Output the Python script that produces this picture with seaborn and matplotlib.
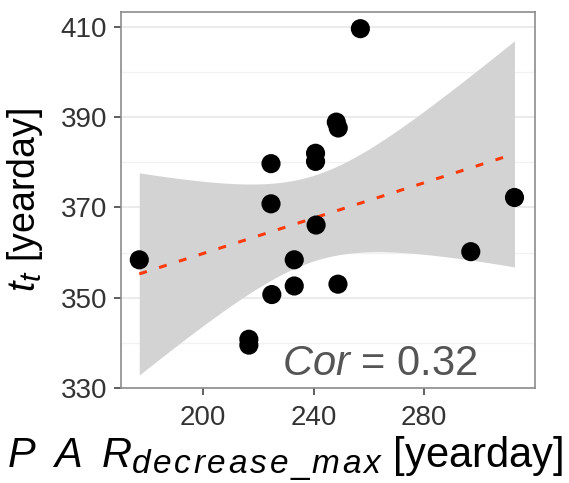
import numpy as np
import pandas as pd
import matplotlib
matplotlib.use("Agg")
import matplotlib.pyplot as plt
from matplotlib.ticker import MultipleLocator
import matplotlib._mathtext as mathtext_mod
import seaborn as sns

# values
par_decrease_max = [177.0, 216.6, 216.6, 224.6, 224.6, 224.9, 233.0, 233.0,
                    240.7, 240.7, 240.9, 248.2, 248.9, 248.8, 256.9, 296.8, 312.6]
t_t = [358.4, 340.8, 339.5, 379.7, 370.8, 350.7, 358.4, 352.6,
       382.0, 380.2, 366.1, 388.9, 387.6, 353.0, 409.6, 360.2, 372.2]
cor_label = "0.32"
x_ticks = [200, 240, 280]
y_ticks = [330, 350, 370, 390, 410]

df = pd.DataFrame({"par": par_decrease_max, "tt": t_t})

# linear fit with 95% confidence band (like geom_smooth(method = "lm"))
x = df["par"].to_numpy()
y = df["tt"].to_numpy()
n = len(x)
slope, intercept = np.polyfit(x, y, 1)
resid = y - (slope * x + intercept)
s_err = np.sqrt(np.sum(resid ** 2) / (n - 2))
sxx = np.sum((x - x.mean()) ** 2)
t_crit = 2.131  # t(0.975, df = 15)
fit = pd.DataFrame({"par": np.linspace(x.min(), x.max(), 80)})
fit["tt"] = slope * fit["par"] + intercept
half = t_crit * s_err * np.sqrt(1 / n + (fit["par"] - x.mean()) ** 2 / sxx)
fit["lo"] = fit["tt"] - half
fit["hi"] = fit["tt"] + half

sns.set_style("white")
plt.rcParams["font.family"] = ["Liberation Sans", "DejaVu Sans"]
plt.rcParams["mathtext.fontset"] = "custom"
plt.rcParams["mathtext.rm"] = "Liberation Sans"
plt.rcParams["mathtext.it"] = "Liberation Sans:italic"
mathtext_mod.SHRINK_FACTOR = 0.8  # R-style bigger subscripts

fig = plt.figure(figsize=(5.69, 4.83), dpi=100)
ax = fig.add_axes([0.2127, 0.1967, 0.7275, 0.7785])

ax.fill_between(fit["par"], fit["lo"], fit["hi"], color="#d3d3d3", lw=0, zorder=2)
sns.lineplot(data=fit, x="par", y="tt", ax=ax, color="#ff3a0a", lw=2.2,
             linestyle=(0, (2.6, 4.2)), zorder=3)
sns.scatterplot(data=df, x="par", y="tt", ax=ax, color="black", s=190,
                edgecolor="none", zorder=4)

ax.set_xlim(170.4, 320.0)
ax.set_ylim(330, 413.3)
ax.set_xticks(x_ticks)
ax.set_yticks(y_ticks)
ax.yaxis.set_minor_locator(MultipleLocator(10))
ax.grid(False)
ax.grid(axis="y", which="major", color="#e6e6e6", lw=1.1)
ax.grid(axis="y", which="minor", color="#f2f2f2", lw=1.0)
ax.set_axisbelow(True)

for s in ax.spines.values():
    s.set_color("#8c8c8c")
    s.set_linewidth(1.2)

ax.tick_params(axis="both", which="major", labelsize=20, labelcolor="#333333",
               color="#333333", length=5, width=1.1, direction="out",
               bottom=True, left=True)
ax.tick_params(axis="y", which="minor", length=0)
ax.tick_params(axis="x", pad=7)
ax.tick_params(axis="y", pad=5)

sub = r"\hspace{0.1}".join(list("decrease")) + r"\hspace{0.1}\_\hspace{0.1}" \
    + r"\hspace{0.1}".join(list("max"))
ax.set_xlabel(r"$P\;\;A\;\;R_{" + sub + r"}$ [yearday]",
              fontsize=30, color="black")
ax.xaxis.set_label_coords(0.397, -0.125, transform=ax.transAxes)
ax.xaxis.label.set_va("top")
ax.set_ylabel(r"$t_t$ [yearday]", fontsize=27, color="black")
ax.yaxis.set_label_coords(-0.183, 0.5, transform=ax.transAxes)

ax.text(0.389, 0.035, r"$Cor$ = " + cor_label, transform=ax.transAxes,
        fontsize=30, color="#555555", ha="left", va="baseline")

fig.savefig("out.png", dpi=100)
